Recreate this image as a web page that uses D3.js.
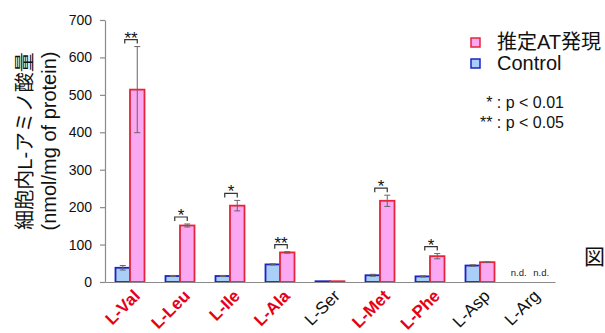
<!DOCTYPE html>
<html>
<head>
<meta charset="utf-8">
<script src="https://cdn.jsdelivr.net/npm/d3@7"></script>
<style>
  html, body { margin: 0; padding: 0; background: #fff; }
  svg { display: block; font-family: "Liberation Sans", Arial, "Noto Sans CJK JP", sans-serif; }
</style>
</head>
<body>
<svg id="chart" width="605" height="333"></svg>
<script>
// Intracellular amino-acid levels: cells expressing the putative AT vs. control
const categories = ["L-Val", "L-Leu", "L-Ile", "L-Ala", "L-Ser", "L-Met", "L-Phe", "L-Asp", "L-Arg"];
const highlighted = [true, true, true, true, false, true, true, false, false];
const controlMean = [38, 16, 16, 47, 2, 18, 15, 44, null];
const controlErr  = [6, 1.5, 1.5, 1.5, 0.5, 2.5, 1.5, 2, null];
const atMean      = [514, 151, 204, 79, 2, 217, 69, 53, null];
const atErr       = [115, 4, 14, 2, 0.5, 15, 7, 1, null];
const significance = ["**", "*", "*", "**", "", "*", "*", "", ""];
const yTicks = [0, 100, 200, 300, 400, 500, 600, 700];
const seriesKeys = ["control", "at"];
const seriesNames = { at: "推定AT発現", control: "Control" };
const notDetected = "n.d.";
const yTitle = ["細胞内L-アミノ酸量", "(nmol/mg of protein)"];
const sigNotes = ["* : p < 0.01", "** : p < 0.05"];
const figMark = "図";

const colors = {
  at: { fill: "#fba8f2", stroke: "#e6243c" },
  control: { fill: "#a9cff8", stroke: "#1c22c8" }
};
const axisColor = "#8a8a8a";
const errColor = "#666";
const labelRed = "#e4001c";

const svg = d3.select("#chart");
const plot = { left: 105, right: 555, top: 20, bottom: 282 };

const x = d3.scaleBand().domain(categories).range([plot.left, plot.right])
  .paddingInner(0.42).paddingOuter(0.21);
const xs = d3.scaleBand().domain(seriesKeys).range([0, x.bandwidth()]);
const y = d3.scaleLinear().domain([0, 700]).range([plot.bottom, plot.top]);

const rows = categories.map((c, i) => ({
  cat: c, i,
  control: { mean: controlMean[i], err: controlErr[i] },
  at: { mean: atMean[i], err: atErr[i] }
}));

// y axis
const yAxis = svg.append("g")
  .attr("transform", `translate(${plot.left},0)`)
  .call(d3.axisLeft(y).tickValues(yTicks).tickSize(5).tickSizeOuter(0).tickPadding(8));
yAxis.select(".domain").attr("stroke", axisColor).attr("stroke-width", 1.2);
yAxis.selectAll(".tick line").attr("stroke", axisColor).attr("stroke-width", 1.2);
yAxis.selectAll(".tick text").attr("font-size", 14).attr("fill", "#111")
  .attr("font-family", "Liberation Sans, Arial, sans-serif");

// bars
const groups = svg.append("g").selectAll("g").data(rows).join("g")
  .attr("transform", d => `translate(${x(d.cat)},0)`);

seriesKeys.forEach(k => {
  groups.filter(d => d[k].mean != null).append("rect")
    .attr("x", xs(k))
    .attr("width", xs.bandwidth())
    .attr("y", d => y(d[k].mean))
    .attr("height", d => y(0) - y(d[k].mean))
    .attr("fill", colors[k].fill)
    .attr("stroke", colors[k].stroke)
    .attr("stroke-width", 1.8);
});

// error bars
seriesKeys.forEach(k => {
  const eg = groups.filter(d => d[k].mean != null && d[k].err > 0.6).append("g")
    .attr("stroke", errColor).attr("stroke-width", 1);
  const cx = xs(k) + xs.bandwidth() / 2;
  eg.append("line").attr("x1", cx).attr("x2", cx)
    .attr("y1", d => y(d[k].mean + d[k].err)).attr("y2", d => y(d[k].mean - d[k].err));
  eg.append("line").attr("x1", cx - 3).attr("x2", cx + 3)
    .attr("y1", d => y(d[k].mean + d[k].err)).attr("y2", d => y(d[k].mean + d[k].err));
  eg.append("line").attr("x1", cx - 3).attr("x2", cx + 3)
    .attr("y1", d => y(d[k].mean - d[k].err)).attr("y2", d => y(d[k].mean - d[k].err));
});

// significance brackets
const sigG = groups.filter(d => significance[d.i] !== "").append("g");
const cxC = xs("control") + xs.bandwidth() / 2;
const cxA = xs("at") + xs.bandwidth() / 2;
const bracketTop = d => y(d.at.mean + d.at.err) - 7;
sigG.append("path")
  .attr("d", d => `M${cxC + 2},${bracketTop(d) + 4}V${bracketTop(d)}H${cxA}V${bracketTop(d) + 4}`)
  .attr("fill", "none").attr("stroke", "#333").attr("stroke-width", 1.2);
sigG.append("text")
  .attr("x", (cxC + cxA) / 2 + 1)
  .attr("y", d => bracketTop(d) + 4)
  .attr("text-anchor", "middle")
  .attr("font-size", 17)
  .attr("fill", "#111")
  .text(d => significance[d.i]);

// n.d. markers
groups.filter(d => d.control.mean == null).each(function () {
  const g = d3.select(this);
  g.append("text").attr("x", xs("control") + xs.bandwidth() / 2 - 4).attr("y", y(0) - 6)
    .attr("text-anchor", "middle").attr("font-size", 9.5).attr("fill", "#222").text(notDetected);
  g.append("text").attr("x", xs("at") + xs.bandwidth() / 2 + 4).attr("y", y(0) - 6)
    .attr("text-anchor", "middle").attr("font-size", 9.5).attr("fill", "#222").text(notDetected);
});

// x axis baseline and category labels
const xAxis = svg.append("g")
  .attr("transform", `translate(0,${plot.bottom})`)
  .call(d3.axisBottom(x).tickSize(0).tickSizeOuter(0).tickPadding(0));
xAxis.select(".domain").attr("stroke", axisColor).attr("stroke-width", 1.2);
xAxis.selectAll(".tick text")
  .attr("text-anchor", "end")
  .attr("dy", 0)
  .attr("transform", "translate(11,15) rotate(-45)")
  .attr("font-size", 17)
  .attr("font-weight", (d, i) => highlighted[i] ? "bold" : "normal")
  .attr("fill", (d, i) => highlighted[i] ? labelRed : "#111");

// y axis title
const titleG = svg.append("g").attr("transform", `translate(0,141)`);
titleG.append("text").attr("transform", "translate(32,0) rotate(-90)")
  .attr("text-anchor", "middle").attr("font-size", 20).attr("fill", "#111").text(yTitle[0]);
titleG.append("text").attr("transform", "translate(56,0) rotate(-90)")
  .attr("text-anchor", "middle").attr("font-size", 20).attr("fill", "#111").text(yTitle[1]);

// legend
const legend = svg.append("g").attr("transform", "translate(471,38)");
["at", "control"].forEach((k, i) => {
  const row = legend.append("g").attr("transform", `translate(0,${i * 21})`);
  row.append("rect").attr("width", 9).attr("height", 9)
    .attr("fill", colors[k].fill).attr("stroke", colors[k].stroke).attr("stroke-width", 1.5);
  row.append("text").attr("x", 26).attr("y", 11).attr("font-size", 20).attr("fill", "#111")
    .text(seriesNames[k]);
});

// significance notes
sigNotes.forEach((t, i) => {
  svg.append("text").attr("x", 564).attr("y", 108 + i * 20)
    .attr("text-anchor", "end").attr("font-size", 16).attr("fill", "#111").text(t);
});

// figure mark at the right edge
svg.append("text").attr("x", 584).attr("y", 264).attr("font-size", 21).attr("fill", "#111").text(figMark);
</script>
</body>
</html>
